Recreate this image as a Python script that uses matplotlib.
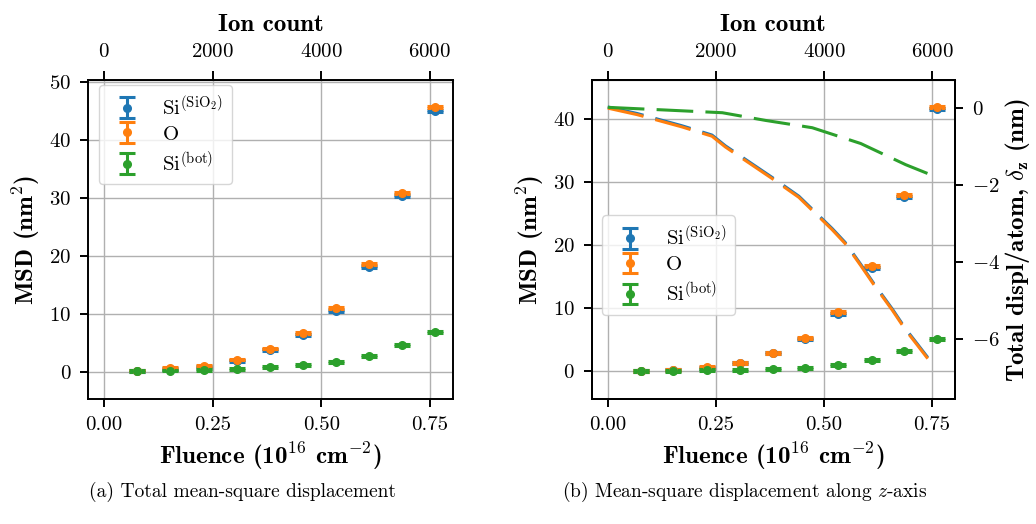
import matplotlib
matplotlib.use("Agg")
import matplotlib.pyplot as plt
import numpy as np

plt.rcParams['font.family'] = 'serif'
plt.rcParams['font.serif'] = ['cmr10', 'DejaVu Serif']
plt.rcParams['mathtext.fontset'] = 'cm'
plt.rcParams['axes.formatter.use_mathtext'] = True
plt.rcParams['axes.unicode_minus'] = True

# fluence of each step (1e16 cm^-2), ion count = fluence * 8000
fluence = [0.076, 0.152, 0.229, 0.305, 0.381, 0.457, 0.533, 0.610, 0.686, 0.762]

# (a) total MSD (nm^2)
msd_si_ox = [0.25, 0.55, 0.9, 1.9, 3.8, 6.4, 10.6, 18.2, 30.4, 45.0]
msd_o = [0.3, 0.75, 1.15, 2.2, 4.1, 6.8, 11.1, 18.7, 30.9, 45.7]
msd_si_bot = [0.2, 0.3, 0.4, 0.6, 0.9, 1.3, 1.8, 2.8, 4.7, 6.9]
msd_err = [0.15] * 10

# (b) MSD along z (nm^2)
msdz_si_ox = [0.0, 0.15, 0.5, 1.2, 2.8, 5.1, 9.1, 16.4, 27.6, 41.6]
msdz_o = [0.0, 0.2, 0.6, 1.3, 2.9, 5.3, 9.35, 16.7, 27.9, 41.9]
msdz_si_bot = [0.0, 0.05, 0.1, 0.1, 0.3, 0.5, 0.95, 1.75, 3.2, 5.05]

# total displacement per atom along z (nm)
dz_f_o = [0.0, 0.068, 0.172, 0.241, 0.272, 0.380, 0.442, 0.519, 0.549, 0.585,
          0.616, 0.658, 0.689, 0.716, 0.740]
dz_o = [0.0, -0.17, -0.49, -0.73, -1.01, -1.83, -2.32, -3.16, -3.52, -4.09,
        -4.6, -5.25, -5.77, -6.16, -6.51]
dz_f_bot = [0.0, 0.134, 0.265, 0.365, 0.473, 0.585, 0.689, 0.762]
dz_bot = [0.02, -0.05, -0.12, -0.32, -0.51, -0.92, -1.47, -1.80]

labels = [r'Si$^{(\mathrm{SiO_2})}$', 'O', r'Si$^{(\mathrm{bot})}$']
colors = ['#1f77b4', '#ff7f0e', '#2ca02c']

fig = plt.figure(figsize=(10.36, 5.24), dpi=100)
ax1 = fig.add_axes([0.0849, 0.2385, 0.3523, 0.6088])
ax2 = fig.add_axes([0.5712, 0.2385, 0.3506, 0.6088])

bold = dict(family='cmb10', fontsize=18)


def style(ax):
    ax.set_xlim(-0.037, 0.803)
    ax.set_xticks([0.0, 0.25, 0.5, 0.75])
    ax.set_xticklabels(['0.00', '0.25', '0.50', '0.75'])
    ax.grid(True, color='#b0b0b0', lw=1.0)
    ax.set_axisbelow(True)
    for s in ax.spines.values():
        s.set_linewidth(1.4)
    ax.tick_params(labelsize=15, width=1.4, length=5.5, pad=6.5)
    ax.set_xlabel(r'Fluence (10$^{\mathbf{16}}$ cm$^{\mathbf{-2}}$)', labelpad=5, **bold)
    ax.set_ylabel(r'MSD (nm$^{\mathbf{2}}$)', labelpad=5, **bold)
    top = ax.secondary_xaxis('top', functions=(lambda f: f * 8000, lambda n: n / 8000))
    top.set_xticks([0, 2000, 4000, 6000])
    top.tick_params(labelsize=15, width=1.4, length=6.5, pad=7)
    top.set_xlabel('Ion count', labelpad=9, **bold)


def points(ax, series):
    for y, c, lab in zip(series, colors, labels):
        ax.errorbar(fluence, y, yerr=msd_err, fmt='o', color=c, ms=5.5,
                    capsize=5.5, capthick=2.2, elinewidth=2.2, label=lab)


points(ax1, [msd_si_ox, msd_o, msd_si_bot])
style(ax1)
ax1.set_ylim(-4.6, 50.35)
ax1.set_yticks([0, 10, 20, 30, 40, 50])
ax1.legend(loc='upper left', bbox_to_anchor=(0.03, 0.985), fontsize=15,
           framealpha=0.8, borderpad=0.45, handlelength=1.8, labelspacing=0.3,
           borderaxespad=0.0)

points(ax2, [msdz_si_ox, msdz_o, msdz_si_bot])
style(ax2)
ax2.set_ylim(-4.45, 46.2)
ax2.set_yticks([0, 10, 20, 30, 40])
ax2.legend(loc='center left', bbox_to_anchor=(0.0, 0.42), fontsize=15,
           framealpha=0.8, borderpad=0.45, handlelength=1.8, labelspacing=0.3)

ax3 = ax2.twinx()
dash = (0, (12, 4))
ax3.plot(dz_f_o, np.array(dz_o) + 0.03, color=colors[0], lw=2.2, linestyle=dash)
ax3.plot(dz_f_o, dz_o, color=colors[1], lw=2.2, linestyle=dash)
ax3.plot(dz_f_bot, dz_bot, color=colors[2], lw=2.2, linestyle=dash)
ax3.set_ylim(-7.56, 0.73)
ax3.set_yticks([0, -2, -4, -6])
ax3.tick_params(labelsize=15, width=1.4, length=5.5, pad=6.5)
for s in ax3.spines.values():
    s.set_linewidth(1.4)
ax3.set_ylabel(r'Total displ/atom, $\mathbf{\delta_z}$ (nm)', labelpad=2, **bold)

fig.text(0.2345, 0.052, '(a) Total mean-square displacement', ha='center', fontsize=14)
fig.text(0.719, 0.052, r'(b) Mean-square displacement along $z$-axis', ha='center', fontsize=14)

fig.savefig('out.png', dpi=100)
